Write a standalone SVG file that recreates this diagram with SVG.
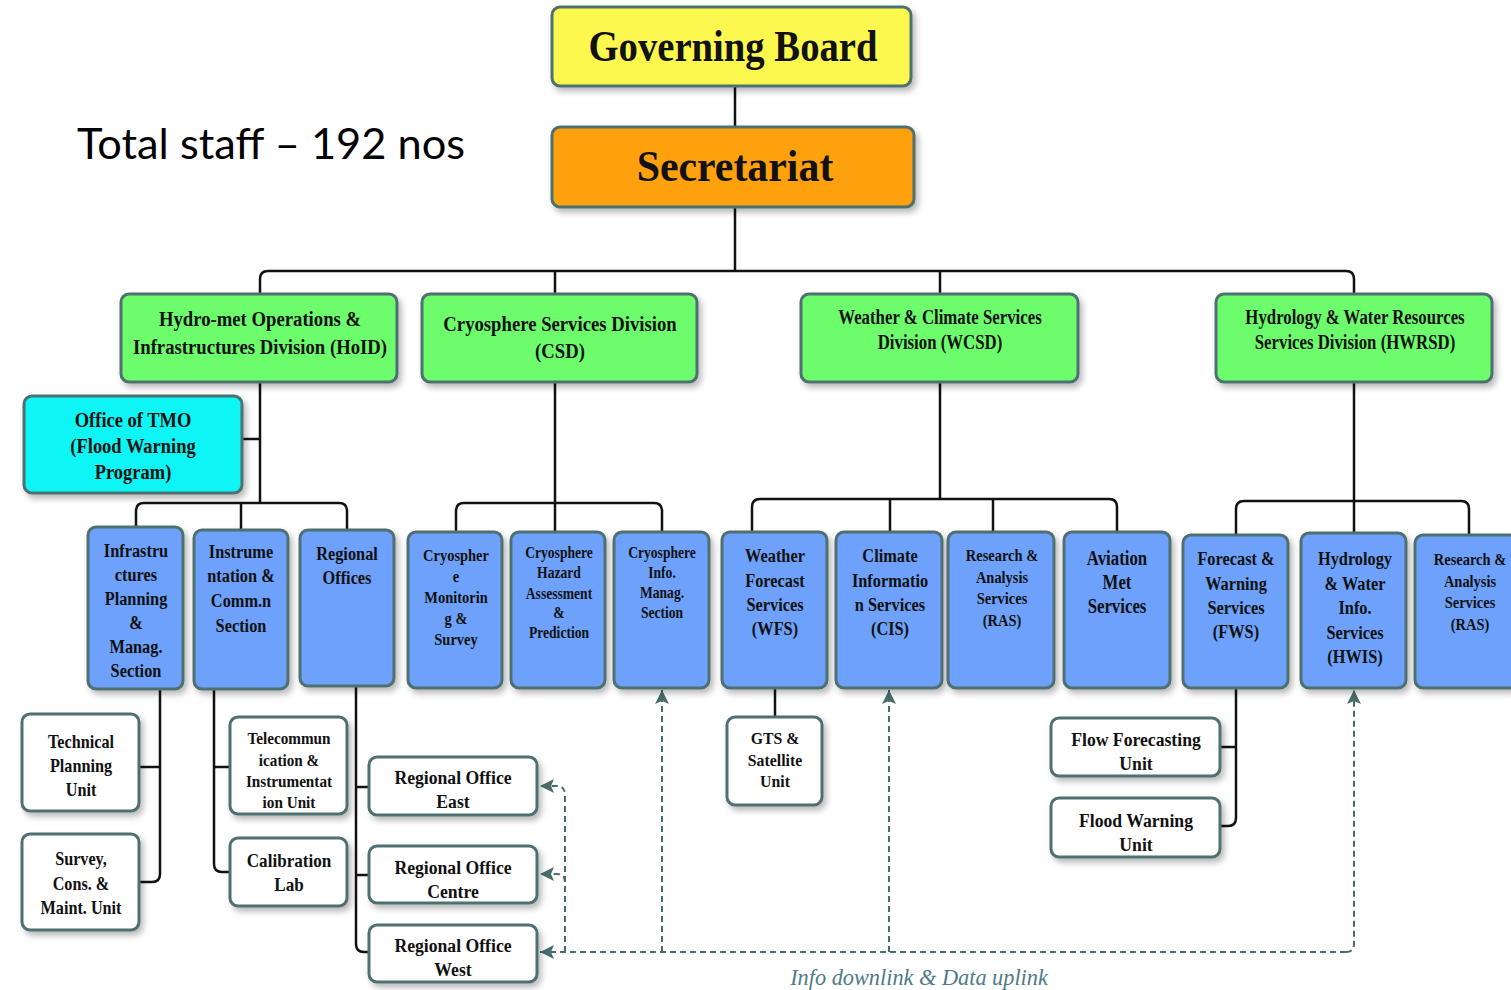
<svg xmlns="http://www.w3.org/2000/svg" width="1511" height="990" viewBox="0 0 1511 990">
<defs>
<filter id="sh" x="-20%" y="-20%" width="140%" height="150%">
<feDropShadow dx="3" dy="4" stdDeviation="3" flood-color="#000" flood-opacity="0.28"/>
</filter>
<marker id="ar" markerUnits="userSpaceOnUse" markerWidth="16" markerHeight="16" refX="14" refY="8" orient="auto">
<path d="M0,1 L14,8 L0,15 L3,8 z" fill="#4a6b6b"/>
</marker>
<style>
.bx{stroke:#4f7070;stroke-width:3;filter:url(#sh)}
.yel{fill:#FDF84E}.org{fill:#FFA10C}.grn{fill:#6CFC6C}.cyn{fill:#0AF5F5}.blu{fill:#6DA1FB}.wht{fill:#ffffff}
text{font-family:"Liberation Serif","Times New Roman",serif;font-weight:bold;text-anchor:middle;fill:#111}
.t44{font-size:45px}.t22{font-size:22px}.t20{font-size:20px}.t19{font-size:19px}.t18{font-size:18px}.t17{font-size:17px}.t16{font-size:16px}
.ln{fill:none;stroke:#111;stroke-width:2.5}
.ds{fill:none;stroke:#4a6b6b;stroke-width:2;stroke-dasharray:6 4}
</style>
</defs>
<rect width="1511" height="990" fill="#fff"/>

<text x="77" y="159" textLength="388" lengthAdjust="spacingAndGlyphs" style="font-family:Lato,'Liberation Sans',sans-serif;font-weight:normal;font-size:42px;text-anchor:start;fill:#000">Total staff – 192 nos</text>

<g id="connectors">
<path class="ln" d="M735 86 V127"/>
<path class="ln" d="M735 207 V271"/>
<path class="ln" d="M260 294 V279 Q260 271 268 271 H1346 Q1354 271 1354 279 V294"/>
<path class="ln" d="M555 271 V294"/>
<path class="ln" d="M940 271 V294"/>
<path class="ln" d="M260 382 V503"/>
<path class="ln" d="M242 439 H260"/>
<path class="ln" d="M136 528 V511 Q136 503 144 503 H339 Q347 503 347 511 V530"/>
<path class="ln" d="M241 503 V530"/>
<path class="ln" d="M555 382 V532"/>
<path class="ln" d="M456 532 V511 Q456 503 464 503 H654 Q662 503 662 511 V532"/>
<path class="ln" d="M940 382 V499"/>
<path class="ln" d="M752 532 V507 Q752 499 760 499 H1109 Q1117 499 1117 507 V532"/>
<path class="ln" d="M890 499 V532"/>
<path class="ln" d="M993 499 V532"/>
<path class="ln" d="M1354 382 V533"/>
<path class="ln" d="M1236 535 V509 Q1236 501 1244 501 H1461 Q1469 501 1469 509 V535"/>
<path class="ln" d="M160 689 V874 Q160 882 152 882 H139"/>
<path class="ln" d="M139 767 H160"/>
<path class="ln" d="M214 689 V864 Q214 872 222 872 H230"/>
<path class="ln" d="M214 767 H230"/>
<path class="ln" d="M356 686 V944 Q356 952 364 952 H369"/>
<path class="ln" d="M356 787 H369"/>
<path class="ln" d="M356 875 H369"/>
<path class="ln" d="M775 688 V717"/>
<path class="ln" d="M1236 688 V818 Q1236 826 1228 826 H1220"/>
<path class="ln" d="M1220 747 H1236"/>
<path class="ds" d="M1346 952 H540" marker-end="url(#ar)"/>
<path class="ds" d="M1346 952 Q1354 952 1354 944 V690" marker-end="url(#ar)"/>
<path class="ds" d="M662 952 V690" marker-end="url(#ar)"/>
<path class="ds" d="M889 952 V690" marker-end="url(#ar)"/>
<path class="ds" d="M565 952 V795 Q565 786 557 786 H540" marker-end="url(#ar)"/>
<path class="ds" d="M565 882 Q565 874 557 874 H540" marker-end="url(#ar)"/>
</g>

<g id="governing-board"><rect class="bx yel" x="552" y="7" width="359" height="79" rx="8"/>
<g transform="translate(733 0) scale(0.86 1)"><text class="t44" y="61">Governing Board</text></g></g>

<g id="secretariat"><rect class="bx org" x="552" y="127" width="362" height="80" rx="8"/>
<g transform="translate(735 0) scale(0.93 1)"><text class="t44" y="181">Secretariat</text></g></g>

<g id="hoid"><rect class="bx grn" x="121" y="294" width="276" height="88" rx="8"/>
<g transform="translate(260 0) scale(0.85 1)"><text class="t22" y="326">Hydro-met Operations &amp;</text><text class="t22" y="354">Infrastructures Division (HoID)</text></g></g>

<g id="csd"><rect class="bx grn" x="422" y="294" width="275" height="88" rx="8"/>
<g transform="translate(560 0) scale(0.85 1)"><text class="t22" y="331">Cryosphere Services Division</text><text class="t22" y="358">(CSD)</text></g></g>

<g id="wcsd"><rect class="bx grn" x="801" y="294" width="277" height="88" rx="8"/>
<g transform="translate(940 0) scale(0.84 1)"><text class="t20" y="324">Weather &amp; Climate Services</text><text class="t20" y="349">Division (WCSD)</text></g></g>

<g id="hwrsd"><rect class="bx grn" x="1216" y="294" width="276" height="88" rx="8"/>
<g transform="translate(1355 0) scale(0.84 1)"><text class="t20" y="324">Hydrology &amp; Water Resources</text><text class="t20" y="349">Services Division (HWRSD)</text></g></g>

<g id="tmo"><rect class="bx cyn" x="24" y="396" width="218" height="97" rx="8"/>
<g transform="translate(133 0) scale(0.84 1)"><text class="t22" y="427">Office of TMO</text><text class="t22" y="453">(Flood Warning</text><text class="t22" y="479">Program)</text></g></g>

<g id="infra-planning"><rect class="bx blu" x="88" y="527" width="95" height="162" rx="8"/>
<g transform="translate(136 0) scale(0.86 1)"><text class="t19" y="557">Infrastru</text><text class="t19" y="581">ctures</text><text class="t19" y="605">Planning</text><text class="t19" y="629">&amp;</text><text class="t19" y="653">Manag.</text><text class="t19" y="677">Section</text></g></g>

<g id="instrumentation"><rect class="bx blu" x="194" y="530" width="94" height="159" rx="8"/>
<g transform="translate(241 0) scale(0.86 1)"><text class="t19" y="558">Instrume</text><text class="t19" y="582">ntation &amp;</text><text class="t19" y="607">Comm.n</text><text class="t19" y="632">Section</text></g></g>

<g id="regional-offices"><rect class="bx blu" x="300" y="530" width="94" height="156" rx="8"/>
<g transform="translate(347 0) scale(0.86 1)"><text class="t19" y="560">Regional</text><text class="t19" y="584">Offices</text></g></g>

<g id="cryo-monitoring"><rect class="bx blu" x="408" y="532" width="94" height="156" rx="8"/>
<g transform="translate(456 0) scale(0.85 1)"><text class="t17" y="561">Cryospher</text><text class="t17" y="582">e</text><text class="t17" y="603">Monitorin</text><text class="t17" y="624">g &amp;</text><text class="t17" y="645">Survey</text></g></g>

<g id="cryo-hazard"><rect class="bx blu" x="511" y="532" width="94" height="156" rx="8"/>
<g transform="translate(559 0) scale(0.85 1)"><text class="t16" y="558">Cryosphere</text><text class="t16" y="578">Hazard</text><text class="t16" y="599">Assessment</text><text class="t16" y="618">&amp;</text><text class="t16" y="638">Prediction</text></g></g>

<g id="cryo-info"><rect class="bx blu" x="614" y="532" width="95" height="156" rx="8"/>
<g transform="translate(662 0) scale(0.85 1)"><text class="t16" y="558">Cryosphere</text><text class="t16" y="578">Info.</text><text class="t16" y="598">Manag.</text><text class="t16" y="618">Section</text></g></g>

<g id="wfs"><rect class="bx blu" x="722" y="532" width="105" height="156" rx="8"/>
<g transform="translate(775 0) scale(0.86 1)"><text class="t19" y="562">Weather</text><text class="t19" y="587">Forecast</text><text class="t19" y="611">Services</text><text class="t19" y="635">(WFS)</text></g></g>

<g id="cis"><rect class="bx blu" x="836" y="532" width="106" height="156" rx="8"/>
<g transform="translate(890 0) scale(0.86 1)"><text class="t19" y="562">Climate</text><text class="t19" y="587">Informatio</text><text class="t19" y="611">n Services</text><text class="t19" y="635">(CIS)</text></g></g>

<g id="ras-wcsd"><rect class="bx blu" x="948" y="532" width="106" height="156" rx="8"/>
<g transform="translate(1002 0) scale(0.85 1)"><text class="t17" y="561">Research &amp;</text><text class="t17" y="583">Analysis</text><text class="t17" y="604">Services</text><text class="t17" y="626">(RAS)</text></g></g>

<g id="aviation"><rect class="bx blu" x="1064" y="532" width="106" height="156" rx="8"/>
<g transform="translate(1117 0) scale(0.84 1)"><text class="t20" y="565">Aviation</text><text class="t20" y="589">Met</text><text class="t20" y="613">Services</text></g></g>

<g id="fws"><rect class="bx blu" x="1183" y="535" width="105" height="153" rx="8"/>
<g transform="translate(1236 0) scale(0.86 1)"><text class="t19" y="565">Forecast &amp;</text><text class="t19" y="590">Warning</text><text class="t19" y="614">Services</text><text class="t19" y="638">(FWS)</text></g></g>

<g id="hwis"><rect class="bx blu" x="1301" y="533" width="105" height="155" rx="8"/>
<g transform="translate(1355 0) scale(0.86 1)"><text class="t19" y="565">Hydrology</text><text class="t19" y="590">&amp; Water</text><text class="t19" y="614">Info.</text><text class="t19" y="639">Services</text><text class="t19" y="663">(HWIS)</text></g></g>

<g id="ras-hwrsd"><rect class="bx blu" x="1415" y="535" width="110" height="153" rx="8"/>
<g transform="translate(1470 0) scale(0.85 1)"><text class="t17" y="565">Research &amp;</text><text class="t17" y="587">Analysis</text><text class="t17" y="608">Services</text><text class="t17" y="630">(RAS)</text></g></g>

<g id="technical-planning"><rect class="bx wht" x="22" y="714" width="117" height="97" rx="8"/>
<g transform="translate(81 0) scale(0.9 1)"><text class="t18" y="748">Technical</text><text class="t18" y="772">Planning</text><text class="t18" y="796">Unit</text></g></g>

<g id="survey"><rect class="bx wht" x="22" y="834" width="117" height="96" rx="8"/>
<g transform="translate(81 0) scale(0.9 1)"><text class="t18" y="865">Survey,</text><text class="t18" y="890">Cons. &amp;</text><text class="t18" y="914">Maint. Unit</text></g></g>

<g id="telecom"><rect class="bx wht" x="230" y="717" width="117" height="97" rx="8"/>
<g transform="translate(289 0) scale(0.95 1)"><text class="t16" y="744">Telecommun</text><text class="t16" y="766">ication &amp;</text><text class="t16" y="787">Instrumentat</text><text class="t16" y="808">ion Unit</text></g></g>

<g id="calibration"><rect class="bx wht" x="230" y="838" width="117" height="68" rx="8"/>
<g transform="translate(289 0) scale(0.9 1)"><text class="t19" y="867">Calibration</text><text class="t19" y="891">Lab</text></g></g>

<g id="ro-east"><rect class="bx wht" x="369" y="757" width="168" height="58" rx="8"/>
<g transform="translate(453 0) scale(0.93 1)"><text class="t19" y="784">Regional Office</text><text class="t19" y="808">East</text></g></g>

<g id="ro-centre"><rect class="bx wht" x="369" y="846" width="168" height="57" rx="8"/>
<g transform="translate(453 0) scale(0.93 1)"><text class="t19" y="874">Regional Office</text><text class="t19" y="898">Centre</text></g></g>

<g id="ro-west"><rect class="bx wht" x="369" y="925" width="168" height="57" rx="8"/>
<g transform="translate(453 0) scale(0.93 1)"><text class="t19" y="952">Regional Office</text><text class="t19" y="976">West</text></g></g>

<g id="gts"><rect class="bx wht" x="727" y="717" width="95" height="88" rx="8"/>
<g transform="translate(775 0) scale(0.93 1)"><text class="t17" y="744">GTS &amp;</text><text class="t17" y="766">Satellite</text><text class="t17" y="787">Unit</text></g></g>

<g id="flow-forecasting"><rect class="bx wht" x="1051" y="718" width="169" height="58" rx="8"/>
<g transform="translate(1136 0) scale(0.93 1)"><text class="t19" y="746">Flow Forecasting</text><text class="t19" y="770">Unit</text></g></g>

<g id="flood-warning"><rect class="bx wht" x="1051" y="798" width="169" height="59" rx="8"/>
<g transform="translate(1136 0) scale(0.93 1)"><text class="t19" y="827">Flood Warning</text><text class="t19" y="851">Unit</text></g></g>

<g transform="translate(919 0) scale(0.93 1)"><text y="985" style="font-size:24px;font-weight:normal;font-style:italic;fill:#4f7a88">Info downlink &amp; Data uplink</text></g>
</svg>
